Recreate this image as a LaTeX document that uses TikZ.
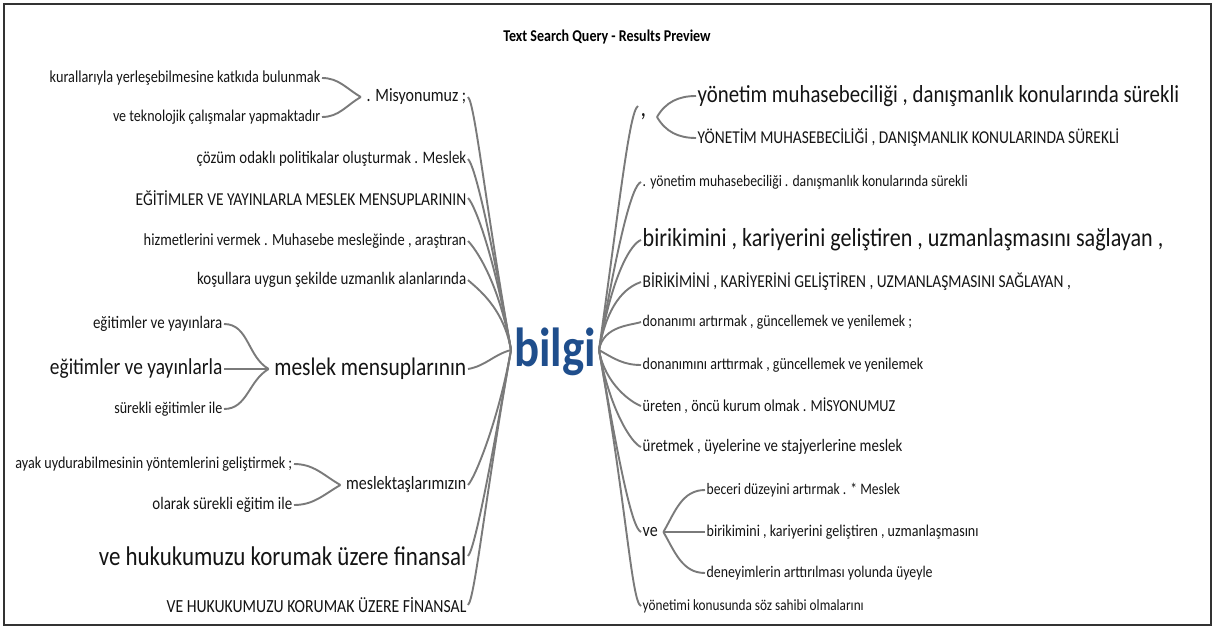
\documentclass[tikz,border=0pt]{standalone}
\usepackage{fontspec}
\setmainfont{Carlito}[FakeStretch=0.85]
\usepackage{tikz}
\usetikzlibrary{positioning}
\definecolor{HubBlue}{HTML}{1F4E8C}
\definecolor{LinkGray}{HTML}{7A7A7A}

\begin{document}
\begin{tikzpicture}[x=1pt,y=1pt,
  leaf/.style={inner sep=1.5pt,text=black!92,font=\fontsize{#1}{#1}\selectfont},
  leaf/.default=16.5,
  link/.style={draw=LinkGray,line width=1.9pt}]

\useasboundingbox (0,0) rectangle (1214,-628);
\draw[black!80,line width=1.8pt] (4,-4) rectangle (1211,-625);
\node[font=\fontsize{16.5}{16.5}\bfseries\selectfont] (title) at (607,-37)
  {Text Search Query - Results Preview};

% ================= centre =================
\node[font=\fontsize{55}{55}\bfseries\selectfont,text=HubBlue,inner sep=0pt] (bilgi) at (555,-352) {bilgi};
\coordinate (hubL) at (511,-350);
\coordinate (hubR) at (599,-350);

% ================= left branch =================
\node[leaf=18.8,anchor=east] (misyon) at (468,-97) {. Misyonumuz ;};
\node[leaf=16.8,anchor=east] (kural) at (322,-78) {kurallarıyla yerleşebilmesine katkıda bulunmak};
\node[leaf,anchor=east] (teknoloji) at (322,-117) {ve teknolojik çalışmalar yapmaktadır};
\coordinate[left=4pt of misyon] (misyonJ);
\node[leaf=17.5,anchor=east] (cozum) at (468,-159) {çözüm odaklı politikalar oluşturmak . Meslek};
\node[leaf=18.2,anchor=east] (egitimU) at (468,-198) {EĞİTİMLER VE YAYINLARLA MESLEK MENSUPLARININ};
\node[leaf=17,anchor=east] (hizmet) at (468,-241) {hizmetlerini vermek . Muhasebe mesleğinde , araştıran};
\node[leaf=17.6,anchor=east] (kosul) at (468,-280) {koşullara uygun şekilde uzmanlık alanlarında};

\node[leaf=25.3,anchor=east] (mensup) at (468,-369) {meslek mensuplarının};
\node[leaf=17.6,anchor=east] (yayinA) at (224,-324) {eğitimler ve yayınlara};
\node[leaf=22.8,anchor=east] (yayinB) at (224,-369) {eğitimler ve yayınlarla};
\node[leaf,anchor=east] (surekli) at (224,-409) {sürekli eğitimler ile};
\coordinate[left=4pt of mensup] (mensupJ);

\node[leaf=18.8,anchor=east] (meslektas) at (468,-485) {meslektaşlarımızın};
\node[leaf=16.6,anchor=east] (ayak) at (294,-464) {ayak uydurabilmesinin yöntemlerini geliştirmek ;};
\node[leaf=17.6,anchor=east] (olarak) at (294,-505) {olarak sürekli eğitim ile};
\coordinate[left=4pt of meslektas] (meslektasJ);

\node[leaf=27,anchor=east] (hukukA) at (468,-556) {ve hukukumuzu korumak üzere finansal};
\node[leaf=18.5,anchor=east] (hukukB) at (468,-605) {VE HUKUKUMUZU KORUMAK ÜZERE FİNANSAL};

% sub-brackets on the left
\draw[link] (kural.east) to[out=0,in=150] (misyonJ);
\draw[link] (teknoloji.east) to[out=0,in=-150] (misyonJ);
\draw[link] (yayinA.east) to[out=0,in=150] (mensupJ);
\draw[link] (yayinB.east) to[out=0,in=180] (mensupJ);
\draw[link] (surekli.east) to[out=0,in=-150] (mensupJ);
\draw[link] (ayak.east) to[out=0,in=150] (meslektasJ);
\draw[link] (olarak.east) to[out=0,in=-150] (meslektasJ);

% into the hub from the left
\foreach \n/\d in {misyon/150,cozum/120,egitimU/95,hizmet/70,kosul/45}
  \draw[link] (\n.east) to[out=-45,in=100,out distance=10,in distance=\d] (hubL);
\draw[link] (mensup.east) to[out=10,in=195] (hubL);
\foreach \n/\d in {meslektas/70,hukukA/110,hukukB/150}
  \draw[link] (\n.east) to[out=45,in=-100,out distance=10,in distance=\d] (hubL);

% ================= right branch =================
\node[leaf=26,anchor=base west] (komma) at (639,-117) {,};
\coordinate (kommaE) at (638,-106);
\coordinate (kommaJ) at (657,-117);
\node[leaf=24.5,anchor=west] (yonetimA) at (696,-96) {yönetim muhasebeciliği , danışmanlık konularında sürekli};
\node[leaf=18.1,anchor=west] (yonetimB) at (696,-138) {YÖNETİM MUHASEBECİLİĞİ , DANIŞMANLIK KONULARINDA SÜREKLİ};
\node[leaf=16.1,anchor=west] (yonetimC) at (641,-182) {. yönetim muhasebeciliği . danışmanlık konularında sürekli};
\node[leaf=26,anchor=west] (birikimA) at (641,-240) {birikimini , kariyerini geliştiren , uzmanlaşmasını sağlayan ,};
\node[leaf=18.1,anchor=west] (birikimB) at (641,-282) {BİRİKİMİNİ , KARİYERİNİ GELİŞTİREN , UZMANLAŞMASINI SAĞLAYAN ,};
\node[leaf=16.3,anchor=west] (donanimA) at (641,-322) {donanımı artırmak , güncellemek ve yenilemek ;};
\node[leaf,anchor=west] (donanimB) at (641,-365) {donanımını arttırmak , güncellemek ve yenilemek};
\node[leaf=16.8,anchor=west] (ureten) at (641,-406) {üreten , öncü kurum olmak . MİSYONUMUZ};
\node[leaf=17.5,anchor=west] (uretmek) at (641,-447) {üretmek , üyelerine ve stajyerlerine meslek};
\node[leaf=18.8,anchor=west] (ve) at (641,-532) {ve};
\coordinate[right=4pt of ve] (veJ);
\node[leaf=16,anchor=west] (beceri) at (705,-490) {beceri düzeyini artırmak . * Meslek};
\node[leaf,anchor=west] (birikimC) at (705,-532) {birikimini , kariyerini geliştiren , uzmanlaşmasını};
\node[leaf=16.3,anchor=west] (deneyim) at (705,-573) {deneyimlerin arttırılması yolunda üyeyle};
\node[leaf=15.6,anchor=west] (yonetimD) at (641,-606) {yönetimi konusunda söz sahibi olmalarını};

% sub-brackets on the right
\draw[link] (kommaJ) to[out=60,in=180] (yonetimA.west);
\draw[link] (kommaJ) to[out=-60,in=180] (yonetimB.west);
\draw[link] (veJ) to[out=60,in=180] (beceri.west);
\draw[link] (veJ) to[out=0,in=180] (birikimC.west);
\draw[link] (veJ) to[out=-60,in=180] (deneyim.west);

% out of the hub to the right
\draw[link] (hubR) to[out=82,in=210,out distance=150,in distance=10] (kommaE);
\foreach \n/\d in {yonetimC/110,birikimA/80,birikimB/55,donanimA/25}
  \draw[link] (hubR) to[out=80,in=200,out distance=\d,in distance=10] (\n.west);
\draw[link] (hubR) to[out=-30,in=180] (donanimB.west);
\foreach \n/\d in {ureten/35,uretmek/60,ve/110,yonetimD/160}
  \draw[link] (hubR) to[out=-80,in=160,out distance=\d,in distance=10] (\n.west);
\end{tikzpicture}
\end{document}
